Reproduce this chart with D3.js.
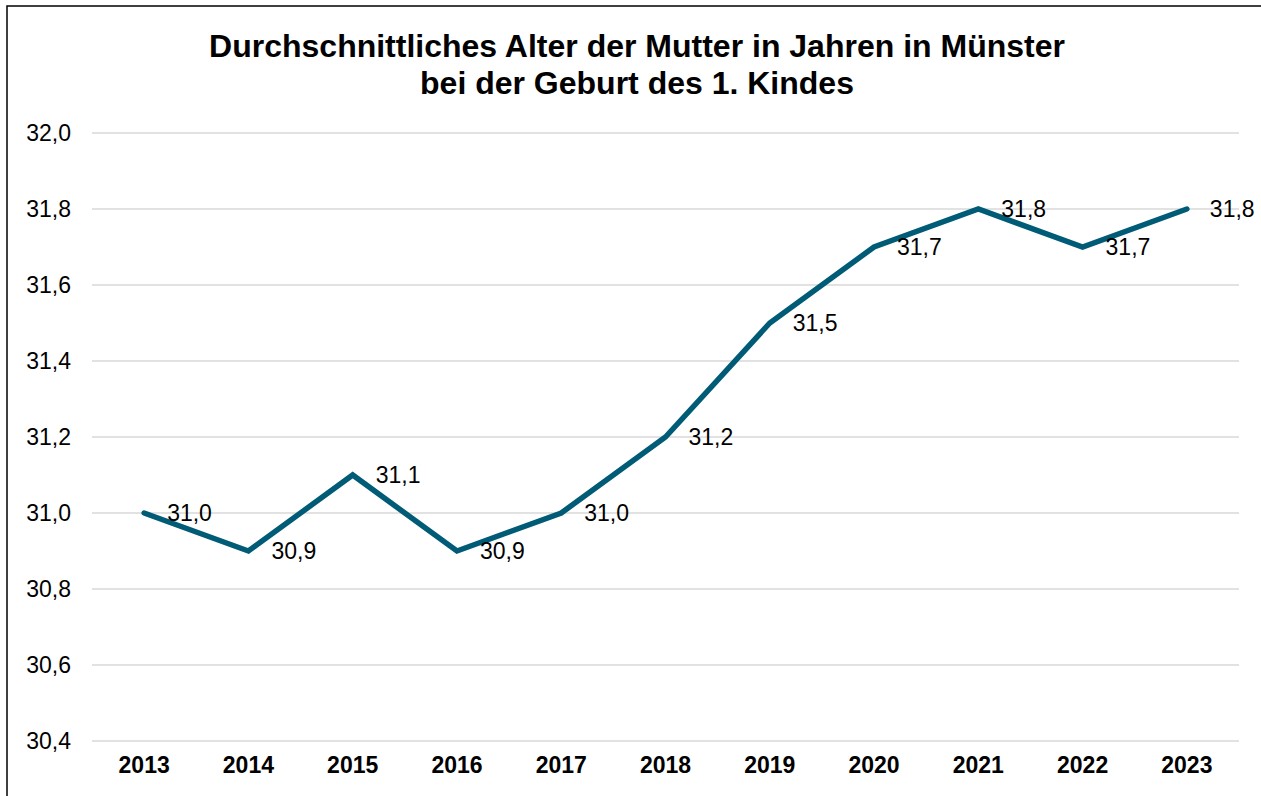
<!DOCTYPE html>
<html><head><meta charset="utf-8">
<script src="https://cdn.jsdelivr.net/npm/d3@7"></script>
<style>body{margin:0;background:#fff;} svg{display:block;font-family:"Liberation Sans",Arial,sans-serif;}</style>
</head><body>
<svg id="c" width="1261" height="796"></svg>
<script>
const years = ["2013","2014","2015","2016","2017","2018","2019","2020","2021","2022","2023"];
const values = [31.0,30.9,31.1,30.9,31.0,31.2,31.5,31.7,31.8,31.7,31.8];
const yTicks = [30.4,30.6,30.8,31.0,31.2,31.4,31.6,31.8,32.0];
const titleLines = ["Durchschnittliches Alter der Mutter in Jahren in Münster","bei der Geburt des 1. Kindes"];

(function(){
const svg = d3.select("#c");
const fmt = v => d3.format(".1f")(v).replace(".", ",");
const mL = 92, mR = 1239, mT = 133, mB = 741;
const FF = "Liberation Sans, Arial, sans-serif";

svg.append("rect").attr("x",7).attr("y",6).attr("width",1300).attr("height",850)
  .attr("fill","none").attr("stroke","#000").attr("stroke-width",1.5);

const x = d3.scaleBand().domain(years).range([mL,mR]);
const y = d3.scaleLinear().domain([30.4,32.0]).range([mB,mT]);

svg.append("g").selectAll("line").data(yTicks).join("line")
  .attr("x1",mL).attr("x2",mR).attr("y1",d=>y(d)).attr("y2",d=>y(d))
  .attr("stroke","#d9d9d9").attr("stroke-width",1.5);

const yAxis = svg.append("g").attr("transform",`translate(${mL},0)`)
  .call(d3.axisLeft(y).tickValues(yTicks).tickFormat(fmt).tickSize(0).tickPadding(21));
yAxis.select(".domain").remove();
yAxis.selectAll("text").attr("font-size",23).attr("fill","#000").attr("font-family",FF);

const xAxis = svg.append("g").attr("transform",`translate(0,${mB})`)
  .call(d3.axisBottom(x).tickSize(0).tickPadding(16));
xAxis.select(".domain").remove();
xAxis.selectAll("text").attr("font-size",23).attr("font-weight","bold").attr("fill","#000").attr("font-family",FF);

const cx = d => x(d) + x.bandwidth()/2;
const line = d3.line().x((d,i)=>cx(years[i])).y(d=>y(d));
svg.append("path").datum(values).attr("d",line).attr("fill","none")
  .attr("stroke","#005b76").attr("stroke-width",5.5).attr("stroke-linejoin","miter").attr("stroke-linecap","round");

svg.append("g").selectAll("text").data(values).join("text")
  .attr("x",(d,i)=>cx(years[i])+23).attr("y",d=>y(d)).attr("dy","0.35em")
  .attr("font-size",23).attr("fill","#000").attr("font-family",FF).text(fmt);

svg.append("g").selectAll("text").data(titleLines).join("text")
  .attr("x",637).attr("y",(d,i)=>57+i*37).attr("text-anchor","middle")
  .attr("font-size",32).attr("font-weight","bold").attr("fill","#000").attr("font-family",FF).text(d=>d);
})();
</script>
</body></html>
